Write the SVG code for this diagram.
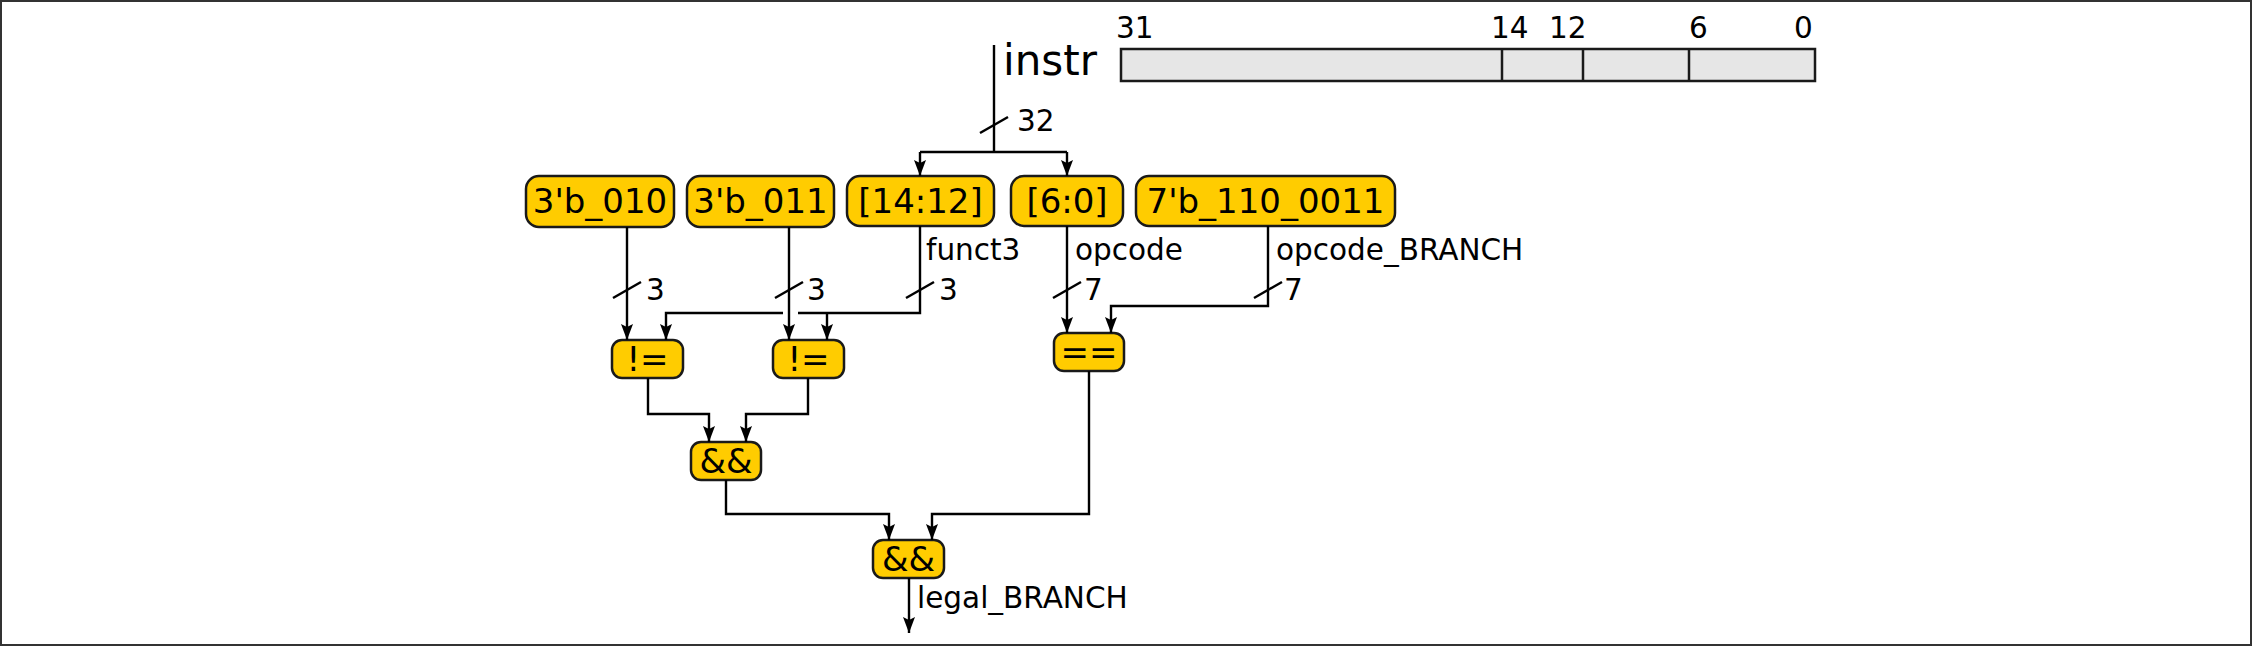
<svg xmlns="http://www.w3.org/2000/svg" width="2252" height="646" viewBox="0 0 2252 646">
<defs>
<style>
.box{fill:#ffcc00;stroke:#1a1a1a;stroke-width:2.5}
.bt{font-family:"DejaVu Sans",sans-serif;font-size:34px;fill:#000;text-anchor:middle}
.lbl{font-family:"DejaVu Sans",sans-serif;font-size:29.5px;fill:#000}
.w{fill:none;stroke:#000;stroke-width:2.4}
.wa{fill:none;stroke:#000;stroke-width:2.4;marker-end:url(#ah)}
.reg{fill:#e6e6e6;stroke:#1a1a1a;stroke-width:2.5}
</style>
<marker id="ah" markerUnits="userSpaceOnUse" markerWidth="18" markerHeight="14" viewBox="-17 -7 18 14" refX="0" refY="0" orient="auto">
<path d="M0,0 L-16,-6 L-13,0 L-16,6 Z" fill="#000"/>
</marker>
</defs>
<rect x="1" y="1" width="2250" height="644" fill="#fff" stroke="#333" stroke-width="2"/>

<g id="register">
<rect class="reg" x="1121" y="49" width="694" height="32"/>
<line x1="1502" y1="49" x2="1502" y2="81" stroke="#1a1a1a" stroke-width="2.5"/>
<line x1="1583" y1="49" x2="1583" y2="81" stroke="#1a1a1a" stroke-width="2.5"/>
<line x1="1689" y1="49" x2="1689" y2="81" stroke="#1a1a1a" stroke-width="2.5"/>
<text class="lbl" x="1116" y="38">31</text>
<text class="lbl" x="1491" y="38">14</text>
<text class="lbl" x="1549" y="38">12</text>
<text class="lbl" x="1689" y="38">6</text>
<text class="lbl" x="1794" y="38">0</text>
</g>

<g id="instr">
<text font-family="DejaVu Sans, sans-serif" font-size="42" x="1003" y="75">instr</text>
</g>

<g id="n_3b010"><rect class="box" x="526" y="176" width="148" height="51" rx="13"/><text class="bt" x="600" y="213">3'b_010</text></g>
<g id="n_3b011"><rect class="box" x="687" y="176" width="147" height="51" rx="13"/><text class="bt" x="760.5" y="213">3'b_011</text></g>
<g id="n_14_12"><rect class="box" x="847" y="176" width="147" height="50" rx="13"/><text class="bt" x="920.5" y="213">[14:12]</text></g>
<g id="n_6_0"><rect class="box" x="1011" y="176" width="112" height="50" rx="13"/><text class="bt" x="1067" y="213">[6:0]</text></g>
<g id="n_7b"><rect class="box" x="1136" y="176" width="259" height="50" rx="13"/><text class="bt" x="1265.5" y="213">7'b_110_0011</text></g>
<g id="n_ne1"><rect class="box" x="612" y="340" width="71" height="38" rx="10"/><text class="bt" x="647.5" y="371">!=</text></g>
<g id="n_ne2"><rect class="box" x="773" y="340" width="71" height="38" rx="10"/><text class="bt" x="808.5" y="371">!=</text></g>
<g id="n_eq"><rect class="box" x="1054" y="333" width="70" height="38" rx="10"/><text class="bt" x="1089" y="364">==</text></g>
<g id="n_and1"><rect class="box" x="691" y="442" width="70" height="38" rx="10"/><text class="bt" x="726" y="473">&amp;&amp;</text></g>
<g id="n_and2"><rect class="box" x="873" y="540" width="71" height="38" rx="10"/><text class="bt" x="908.5" y="571">&amp;&amp;</text></g>

<g id="connectors">
<path class="w" d="M994,45 V152"/>
<path class="w" d="M920,152 H1067"/>
<path class="wa" d="M920,152 V176"/>
<path class="wa" d="M1067,152 V176"/>
<line class="w" x1="980" y1="133" x2="1008" y2="117"/>
<text class="lbl" x="1017" y="131">32</text>

<path class="wa" d="M627,227 V340"/>
<line class="w" x1="613" y1="298" x2="641" y2="282"/>
<text class="lbl" x="646" y="300">3</text>

<path class="wa" d="M789,227 V340"/>
<line class="w" x1="775" y1="298" x2="803" y2="282"/>
<text class="lbl" x="807" y="300">3</text>

<path class="w" d="M920,226 V313 H798"/>
<path class="wa" d="M783,313 H666 V340"/>
<path class="wa" d="M827,313 V340"/>
<line class="w" x1="906" y1="298" x2="934" y2="282"/>
<text class="lbl" x="939" y="300">3</text>
<text class="lbl" x="926" y="260">funct3</text>

<path class="wa" d="M1067,226 V333"/>
<line class="w" x1="1053" y1="298" x2="1081" y2="282"/>
<text class="lbl" x="1084" y="300">7</text>
<text class="lbl" x="1075" y="260">opcode</text>

<path class="wa" d="M1268,226 V306 H1111 V333"/>
<line class="w" x1="1254" y1="298" x2="1282" y2="282"/>
<text class="lbl" x="1284" y="300">7</text>
<text class="lbl" x="1276" y="260">opcode_BRANCH</text>

<path class="wa" d="M648,378 V414 H709 V442"/>
<path class="wa" d="M808,378 V414 H746 V442"/>
<path class="wa" d="M726,480 V514 H889 V540"/>
<path class="wa" d="M1089,371 V514 H932 V540"/>
<path class="wa" d="M909,578 V633"/>
<text class="lbl" x="917" y="608">legal_BRANCH</text>
</g>
</svg>
